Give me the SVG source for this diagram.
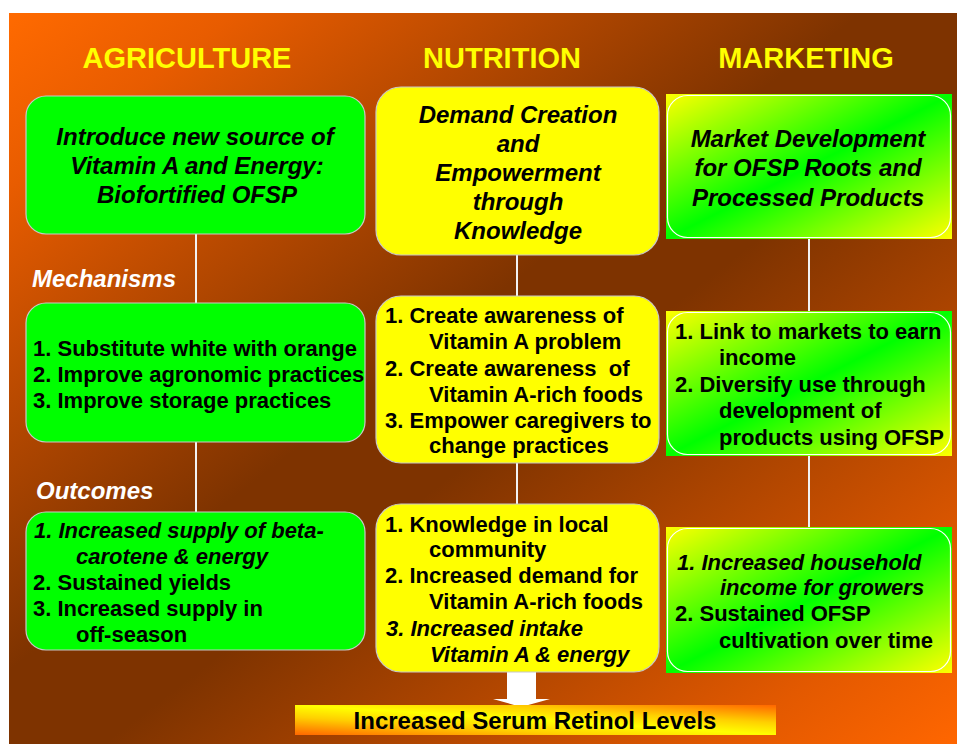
<svg xmlns="http://www.w3.org/2000/svg" width="957" height="744" viewBox="0 0 957 744">
<defs>
<linearGradient id="bg" x1="0" y1="0" x2="1" y2="1">
<stop offset="0" stop-color="#ff6a00"/>
<stop offset="0.12" stop-color="#e85c00"/>
<stop offset="0.45" stop-color="#7e3300"/>
<stop offset="0.55" stop-color="#7e3300"/>
<stop offset="0.88" stop-color="#e35900"/>
<stop offset="1" stop-color="#ff6600"/>
</linearGradient>
<linearGradient id="mk" x1="0" y1="0" x2="1" y2="1">
<stop offset="0" stop-color="#ffff00"/>
<stop offset="0.5" stop-color="#00ff00"/>
<stop offset="1" stop-color="#ffff00"/>
</linearGradient>
<linearGradient id="bar" x1="0" y1="1" x2="1" y2="0">
<stop offset="0" stop-color="#ff6600"/>
<stop offset="0.3" stop-color="#ffd000"/>
<stop offset="0.5" stop-color="#ffff00"/>
<stop offset="0.7" stop-color="#ffd000"/>
<stop offset="1" stop-color="#ff6600"/>
</linearGradient>
<style>
text{font-family:"Liberation Sans",Arial,sans-serif;font-weight:bold;fill:#000;}
.hd{font-size:29px;fill:#ffff00;text-anchor:middle;}
.lbl{font-size:24px;font-style:italic;fill:#fff;}
.tt{font-size:24px;font-style:italic;text-anchor:middle;}
.it{font-size:22px;}
.i{font-style:italic;}
.g{fill:#00ff00;stroke:#c8c8c8;stroke-width:1.2;}
.y{fill:#ffff00;stroke:#c8c8c8;stroke-width:1.2;}
.m{fill:url(#mk);}
.mo{fill:none;stroke:#ffffff;stroke-width:1.2;}
.cn{stroke:#f2f2f2;stroke-width:2;fill:none;}
</style>
</defs>
<rect x="0" y="0" width="957" height="744" fill="#ffffff"/>
<rect x="9" y="13" width="948" height="731" fill="url(#bg)"/>

<g id="headers">
<text class="hd" x="187" y="68">AGRICULTURE</text>
<text class="hd" x="502" y="68">NUTRITION</text>
<text class="hd" x="806" y="68">MARKETING</text>
</g>

<g id="connectors">
<line class="cn" x1="196" y1="234" x2="196" y2="303"/>
<line class="cn" x1="196" y1="442" x2="196" y2="512"/>
<line class="cn" x1="517" y1="255" x2="517" y2="296"/>
<line class="cn" x1="517" y1="463" x2="517" y2="504"/>
<line class="cn" x1="809" y1="239" x2="809" y2="311"/>
<line class="cn" x1="809" y1="456" x2="809" y2="527"/>
<polygon points="507,672 536,672 536,699 550,699 521,707 493,699 507,699" fill="#ffffff"/>
</g>

<g id="labels">
<text class="lbl" x="32" y="287">Mechanisms</text>
<text class="lbl" x="36" y="499">Outcomes</text>
</g>

<g id="agri1">
<rect class="g" x="26" y="96" width="339" height="138" rx="20"/>
<text class="tt" x="195" y="145">Introduce new source of</text>
<text class="tt" x="197" y="174">Vitamin A and Energy:</text>
<text class="tt" x="197" y="203">Biofortified OFSP</text>
</g>

<g id="agri2">
<rect class="g" x="26" y="303" width="339" height="139" rx="20"/>
<text class="it" x="33" y="356">1. Substitute white with orange</text>
<text class="it" x="33" y="382">2. Improve agronomic practices</text>
<text class="it" x="33" y="408">3. Improve storage practices</text>
</g>

<g id="agri3">
<rect class="g" x="26" y="512" width="339" height="138" rx="20"/>
<text class="it i" x="34" y="538">1. Increased supply of beta-</text>
<text class="it i" x="76" y="564">carotene &amp; energy</text>
<text class="it" x="33" y="590">2. Sustained yields</text>
<text class="it" x="33" y="616">3. Increased supply in</text>
<text class="it" x="76" y="642">off-season</text>
</g>

<g id="nutr1">
<rect class="y" x="376" y="87" width="283" height="168" rx="25"/>
<text class="tt" x="518" y="123">Demand Creation</text>
<text class="tt" x="518" y="152">and</text>
<text class="tt" x="518" y="181">Empowerment</text>
<text class="tt" x="518" y="210">through</text>
<text class="tt" x="518" y="239">Knowledge</text>
</g>

<g id="nutr2">
<rect class="y" x="376" y="296" width="283" height="167" rx="25"/>
<text class="it" x="385" y="323">1. Create awareness of</text>
<text class="it" x="429" y="349">Vitamin A problem</text>
<text class="it" x="385" y="376" xml:space="preserve">2. Create awareness  of</text>
<text class="it" x="429" y="402">Vitamin A-rich foods</text>
<text class="it" x="385" y="428">3. Empower caregivers to</text>
<text class="it" x="429" y="453">change practices</text>
</g>

<g id="nutr3">
<rect class="y" x="376" y="504" width="283" height="168" rx="25"/>
<text class="it" x="385" y="532">1. Knowledge in local</text>
<text class="it" x="429" y="557">community</text>
<text class="it" x="385" y="583">2. Increased demand for</text>
<text class="it" x="429" y="609">Vitamin A-rich foods</text>
<text class="it i" x="386" y="636">3. Increased intake</text>
<text class="it i" x="430" y="662">Vitamin A &amp; energy</text>
</g>

<g id="mkt1">
<rect class="m" x="666" y="94" width="286" height="145"/>
<rect class="mo" x="667.5" y="95.5" width="283" height="142" rx="20"/>
<text class="tt" x="808" y="147">Market Development</text>
<text class="tt" x="808" y="176">for OFSP Roots and</text>
<text class="tt" x="808" y="206">Processed Products</text>
</g>

<g id="mkt2">
<rect class="m" x="666" y="311" width="286" height="145"/>
<rect class="mo" x="667.5" y="312.5" width="283" height="142" rx="20"/>
<text class="it" x="675" y="339">1. Link to markets to earn</text>
<text class="it" x="719" y="365">income</text>
<text class="it" x="675" y="392">2. Diversify use through</text>
<text class="it" x="719" y="418">development of</text>
<text class="it" x="719" y="445">products using OFSP</text>
</g>

<g id="mkt3">
<rect class="m" x="666" y="527" width="286" height="146"/>
<rect class="mo" x="667.5" y="528.5" width="283" height="143" rx="20"/>
<text class="it i" x="677" y="570">1. Increased household</text>
<text class="it i" x="720" y="595">income for growers</text>
<text class="it" x="675" y="621">2. Sustained OFSP</text>
<text class="it" x="719" y="648">cultivation over time</text>
</g>

<g id="result">
<rect x="295" y="705" width="481" height="30" fill="url(#bar)"/>
<text x="535" y="729" font-size="24" text-anchor="middle">Increased Serum Retinol Levels</text>
</g>
</svg>
